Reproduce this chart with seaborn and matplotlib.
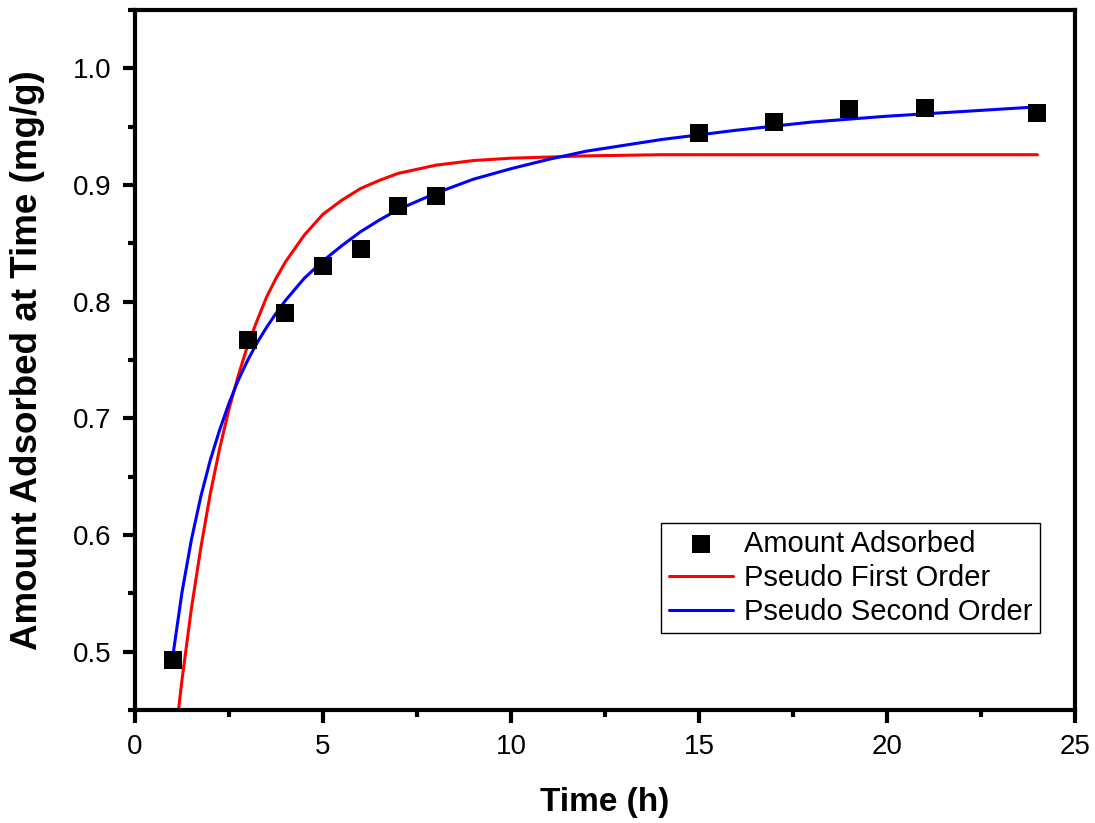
import numpy as np
import pandas as pd
import seaborn as sns
from matplotlib import pyplot as plt
from matplotlib.ticker import MultipleLocator, AutoMinorLocator

# measured points
time_h = [1, 3, 4, 5, 6, 7, 8, 15, 17, 19, 21, 24]
amount = [0.493, 0.767, 0.790, 0.831, 0.845, 0.882, 0.891, 0.945, 0.954, 0.965, 0.966, 0.962]

# fitted curves
fit_t = [1, 1.25, 1.5, 1.75, 2, 2.25, 2.5, 2.75, 3, 3.25, 3.5, 3.75, 4, 4.5, 5, 5.5, 6, 6.5,
         7, 8, 9, 10, 11, 12, 14, 16, 18, 20, 22, 24]
pfo = [0.406, 0.476, 0.537, 0.589, 0.635, 0.674, 0.708, 0.737, 0.763, 0.784, 0.804, 0.820,
       0.834, 0.857, 0.875, 0.887, 0.897, 0.904, 0.910, 0.917, 0.921, 0.923, 0.924, 0.925,
       0.926, 0.926, 0.926, 0.926, 0.926, 0.926]
pso = [0.495, 0.551, 0.596, 0.633, 0.664, 0.690, 0.713, 0.733, 0.750, 0.765, 0.778, 0.790,
       0.801, 0.820, 0.835, 0.848, 0.860, 0.870, 0.879, 0.893, 0.905, 0.914, 0.922, 0.929,
       0.939, 0.947, 0.954, 0.959, 0.963, 0.967]

sns.set_style("ticks")
plt.rcParams['font.family'] = ['Liberation Sans', 'DejaVu Sans']
plt.rcParams['text.color'] = 'black'
plt.rcParams['axes.labelcolor'] = 'black'
plt.rcParams['xtick.color'] = 'black'
plt.rcParams['ytick.color'] = 'black'

fig = plt.figure(figsize=(10.95, 8.23), dpi=100)
ax = fig.add_axes([0.1233, 0.1373, 0.8584, 0.8505])

df_pts = pd.DataFrame({"t": time_h, "q": amount})
df_fit = pd.DataFrame({"t": fit_t, "pfo": pfo, "pso": pso})

sns.scatterplot(data=df_pts, x="t", y="q", ax=ax, marker="s", s=150, color="black",
                edgecolor="black", linewidth=0, label="Amount Adsorbed", zorder=3)
sns.lineplot(data=df_fit, x="t", y="pfo", ax=ax, color="#ff0000", linewidth=2.2,
             label="Pseudo First Order", zorder=2)
sns.lineplot(data=df_fit, x="t", y="pso", ax=ax, color="#0000ff", linewidth=2.2,
             label="Pseudo Second Order", zorder=2)

ax.set_xlim(0, 25)
ax.set_ylim(0.45, 1.05)
ax.xaxis.set_major_locator(MultipleLocator(5))
ax.xaxis.set_minor_locator(AutoMinorLocator(2))
ax.set_yticks([0.5, 0.6, 0.7, 0.8, 0.9, 1.0])
ax.set_yticklabels(["0.5", "0.6", "0.7", "0.8", "0.9", "1.0"])
ax.yaxis.set_minor_locator(AutoMinorLocator(2))

for s in ax.spines.values():
    s.set_linewidth(3)
    s.set_color("black")
ax.tick_params(which="major", direction="out", length=9, width=3, labelsize=20, pad=8,
               color="black", labelcolor="black")
ax.tick_params(which="minor", direction="out", length=5, width=3, color="black")

ax.set_xlabel("Time (h)", fontsize=24, fontweight="bold", labelpad=20)
ax.set_ylabel("Amount Adsorbed at Time (mg/g)", fontsize=26.5, fontweight="bold", labelpad=20)

leg = ax.legend(loc="lower right", bbox_to_anchor=(0.963, 0.11), fontsize=21,
                frameon=True, fancybox=False, edgecolor="black", framealpha=1,
                borderpad=0.25, handlelength=2.2, handletextpad=0.4, labelspacing=0.2,
                borderaxespad=0)
leg.get_frame().set_linewidth(1)

fig.savefig("out.png", dpi=100)
